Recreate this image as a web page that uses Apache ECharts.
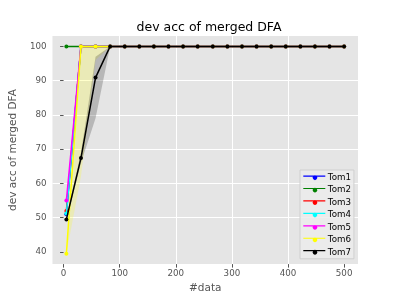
<!DOCTYPE html>
<html><head><meta charset="utf-8">
<script src="https://cdn.jsdelivr.net/npm/echarts@6/dist/echarts.min.js"></script>
<style>html,body{margin:0;padding:0;background:#fff}#c{width:399px;height:299px}</style>
</head><body><div id="c"></div>
<script>
var xs = [5, 31, 57, 83, 109, 135, 161, 187, 213, 239, 266, 292, 318, 344, 370, 396, 422, 448, 474, 500];
var tom1 = [51, 100, 100, 100, 100, 100, 100, 100, 100, 100, 100, 100, 100, 100, 100, 100, 100, 100, 100, 100];
var tom2 = [100, 100, 100, 100, 100, 100, 100, 100, 100, 100, 100, 100, 100, 100, 100, 100, 100, 100, 100, 100];
var tom3 = [52, 100, 100, 100, 100, 100, 100, 100, 100, 100, 100, 100, 100, 100, 100, 100, 100, 100, 100, 100];
var tom4 = [51.2, 100, 100, 100, 100, 100, 100, 100, 100, 100, 100, 100, 100, 100, 100, 100, 100, 100, 100, 100];
var tom5 = [55, 100, 100, 100, 100, 100, 100, 100, 100, 100, 100, 100, 100, 100, 100, 100, 100, 100, 100, 100];
var tom6 = [39.5, 100, 100, 100, 100, 100, 100, 100, 100, 100, 100, 100, 100, 100, 100, 100, 100, 100, 100, 100];
var tom7 = [49.5, 67.4, 90.9, 100, 100, 100, 100, 100, 100, 100, 100, 100, 100, 100, 100, 100, 100, 100, 100, 100];
// shaded spread bands
var tom6Lo = [39.5, 62, 96, 100, 100, 100, 100, 100, 100, 100, 100, 100, 100, 100, 100, 100, 100, 100, 100, 100];
var tom6Hi = [39.5, 100, 100, 100, 100, 100, 100, 100, 100, 100, 100, 100, 100, 100, 100, 100, 100, 100, 100, 100];
var tom7Lo = [49, 66, 79, 100, 100, 100, 100, 100, 100, 100, 100, 100, 100, 100, 100, 100, 100, 100, 100, 100];
var tom7Hi = [50, 69, 97, 100, 100, 100, 100, 100, 100, 100, 100, 100, 100, 100, 100, 100, 100, 100, 100, 100];
var names = ['Tom1', 'Tom2', 'Tom3', 'Tom4', 'Tom5', 'Tom6', 'Tom7'];
var colors = ['blue', 'green', 'red', 'cyan', 'magenta', 'yellow', 'black'];
var xTicks = [0, 100, 200, 300, 400, 500];
var yTicks = [40, 50, 60, 70, 80, 90, 100];

function pairs(v) { return xs.map(function (x, i) { return [x, v[i]]; }); }

var seriesVals = [tom1, tom2, tom3, tom4, tom5, tom6, tom7];
var series = [];
function lineSeries(i, z) {
  return {
    name: names[i], type: 'line', data: pairs(seriesVals[i]), z: z,
    symbol: 'circle', symbolSize: 4, showSymbol: true, showAllSymbol: true,
    lineStyle: { color: colors[i], width: 1.5 },
    itemStyle: { color: colors[i], borderWidth: 0 },
    emphasis: { disabled: true }, animation: false
  };
}
function band(id, lo, hi, fill, z) {
  var data = xs.map(function (x, i) { return [x, lo[i], hi[i]]; });
  series.push({
    name: id, type: 'custom', data: data, silent: true, animation: false, z: z,
    encode: { x: 0, y: [1, 2] },
    renderItem: function (params, api) {
      if (params.dataIndex !== 0) return null;
      var top = [], bot = [];
      for (var k = 0; k < data.length; k++) {
        top.push(api.coord([data[k][0], data[k][2]]));
        bot.unshift(api.coord([data[k][0], data[k][1]]));
      }
      return { type: 'polygon', shape: { points: top.concat(bot) }, style: { fill: fill, stroke: null } };
    }
  });
}
for (var i = 0; i < 6; i++) series.push(lineSeries(i, 2 + i));
band('b6', tom6Lo, tom6Hi, 'rgba(255,255,0,0.2)', 8);
series.push(lineSeries(6, 9));
band('b7', tom7Lo, tom7Hi, 'rgba(0,0,0,0.2)', 10);

var legendIcon = 'path://M0,2.4L22,2.4L22,3.6L0,3.6Z M13.3,3A2.3,2.3,0,1,1,13.29,2.99Z';

var chart = echarts.init(document.getElementById('c'), null, { renderer: 'canvas' });
chart.setOption({
  animation: false,
  title: {
    text: 'dev acc of merged DFA', left: 204, top: 16, textAlign: 'center',
    textStyle: { fontFamily: 'DejaVu Sans', fontSize: 12.5, fontWeight: 'normal', color: '#000' }
  },
  grid: { left: 50, right: 41, top: 36, bottom: 34, show: true, backgroundColor: '#E5E5E5', borderWidth: 0 },
  legend: {
    data: names, orient: 'vertical', left: 300, top: 170, z: 20,
    itemWidth: 22, itemHeight: 5, itemGap: 2.43, icon: legendIcon,
    padding: [2.7, 3, 1.5, 3.3],
    backgroundColor: 'rgba(236,236,236,0.85)', borderColor: '#cfcfcf', borderWidth: 1, borderRadius: 0,
    textStyle: { fontFamily: 'DejaVu Sans', fontSize: 8.7, lineHeight: 10, color: '#000', padding: [0, 0, 0, -2.5] },
    selectedMode: false
  },
  xAxis: {
    type: 'value', min: -19.75, max: 524.75,
    name: '#data', nameLocation: 'middle', nameGap: 17,
    nameTextStyle: { fontFamily: 'DejaVu Sans', fontSize: 10.5, color: '#555' },
    axisLine: { show: false },
    axisTick: { show: true, length: 3.5, lineStyle: { color: '#555', width: 1 }, customValues: xTicks },
    axisLabel: { customValues: xTicks, fontFamily: 'DejaVu Sans', fontSize: 8.7, color: '#555', margin: 5 },
    splitLine: { show: true, showMinLine: false, showMaxLine: false, lineStyle: { color: '#fff', width: 1 } }
  },
  yAxis: {
    type: 'value', min: 36.47, max: 103.03,
    name: 'dev acc of merged DFA', nameLocation: 'middle', nameGap: 25,
    nameTextStyle: { fontFamily: 'DejaVu Sans', fontSize: 10.5, color: '#555' },
    axisLine: { show: false },
    axisTick: { show: true, length: 3.5, lineStyle: { color: '#555', width: 1 }, customValues: yTicks },
    axisLabel: { customValues: yTicks, fontFamily: 'DejaVu Sans', fontSize: 8.7, color: '#555', margin: 6 },
    splitLine: { show: true, showMinLine: false, showMaxLine: false, lineStyle: { color: '#fff', width: 1 } }
  },
  series: series
});
</script></body></html>
